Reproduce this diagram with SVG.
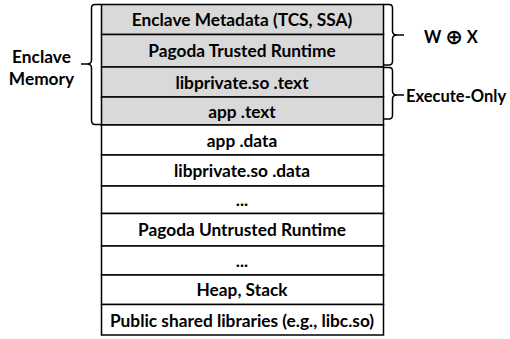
<svg xmlns="http://www.w3.org/2000/svg" width="510" height="339" viewBox="0 0 510 339">
<style>
.t{font-family:Lato,"Open Sans","Liberation Sans",sans-serif;font-weight:bold;font-size:17.3px;fill:#000;text-anchor:middle}
.l{font-family:Lato,"Open Sans","Liberation Sans",sans-serif;font-weight:bold;font-size:16.5px;fill:#000}
.g{fill:#d9d9d9;stroke:#000;stroke-width:1.5}
.w{fill:#fff;stroke:#000;stroke-width:1.5}
.b{fill:none;stroke:#000;stroke-width:1.5}
</style>
<rect width="510" height="339" fill="#fff"/>
<g id="enclave-metadata"><rect class="g" x="101.5" y="4.5" width="282" height="30"/><text class="t" x="242" y="26">Enclave Metadata (TCS, SSA)</text></g>
<g id="pagoda-trusted"><rect class="g" x="101.5" y="34.5" width="282" height="32.5"/><text class="t" x="242" y="57">Pagoda Trusted Runtime</text></g>
<g id="libprivate-text"><rect class="g" x="101.5" y="67" width="282" height="30"/><text class="t" x="242" y="88.5">libprivate.so .text</text></g>
<g id="app-text"><rect class="g" x="101.5" y="97" width="282" height="28"/><text class="t" x="242" y="117.5">app .text</text></g>
<g id="app-data"><rect class="w" x="101.5" y="125" width="282" height="30"/><text class="t" x="242" y="146.5">app .data</text></g>
<g id="libprivate-data"><rect class="w" x="101.5" y="155" width="282" height="31"/><text class="t" x="242" y="177">libprivate.so .data</text></g>
<g id="gap1"><rect class="w" x="101.5" y="186" width="282" height="27.5"/><text class="t" x="242" y="206">...</text></g>
<g id="pagoda-untrusted"><rect class="w" x="101.5" y="213.5" width="282" height="32.5"/><text class="t" x="242" y="236">Pagoda Untrusted Runtime</text></g>
<g id="gap2"><rect class="w" x="101.5" y="246" width="282" height="29"/><text class="t" x="242" y="267">...</text></g>
<g id="heap-stack"><rect class="w" x="101.5" y="275" width="282" height="29.5"/><text class="t" x="242" y="296">Heap, Stack</text></g>
<g id="public-libs"><rect class="w" x="101.5" y="304.5" width="282" height="30.5"/><text class="t" x="242" y="326.5">Public shared libraries (e.g., libc.so)</text></g>
<g id="connectors">
<path class="b" d="M101 4.5 H95 Q91.5 4.5 91.5 8 V60 Q91.5 64 87 64 H81 M87 64 Q91.5 64 91.5 68 V120 Q91.5 124.5 95 124.5 H101"/>
<path class="b" d="M383 4.5 H389 Q392.5 4.5 392.5 8 V31 Q392.5 35 397 35 H404 M397 35 Q392.5 35 392.5 39 V61 Q392.5 65 389 65 H383"/>
<path class="b" d="M383 67.5 H389 Q392.5 67.5 392.5 71 V91 Q392.5 95 397 95 H404 M397 95 Q392.5 95 392.5 99 V115 Q392.5 119 389 119 H383"/>
</g>
<g id="label-enclave-memory"><text class="t" x="41.5" y="63">Enclave</text><text class="t" x="41.5" y="85">Memory</text></g>
<g id="label-wx"><text class="l" x="424" y="43">W <tspan font-family="'DejaVu Sans',sans-serif" font-weight="bold" font-size="21px" dy="1">⊕</tspan><tspan dy="-1"> X</tspan></text></g>
<g id="label-exec"><text class="l" x="406" y="102">Execute-Only</text></g>
</svg>
